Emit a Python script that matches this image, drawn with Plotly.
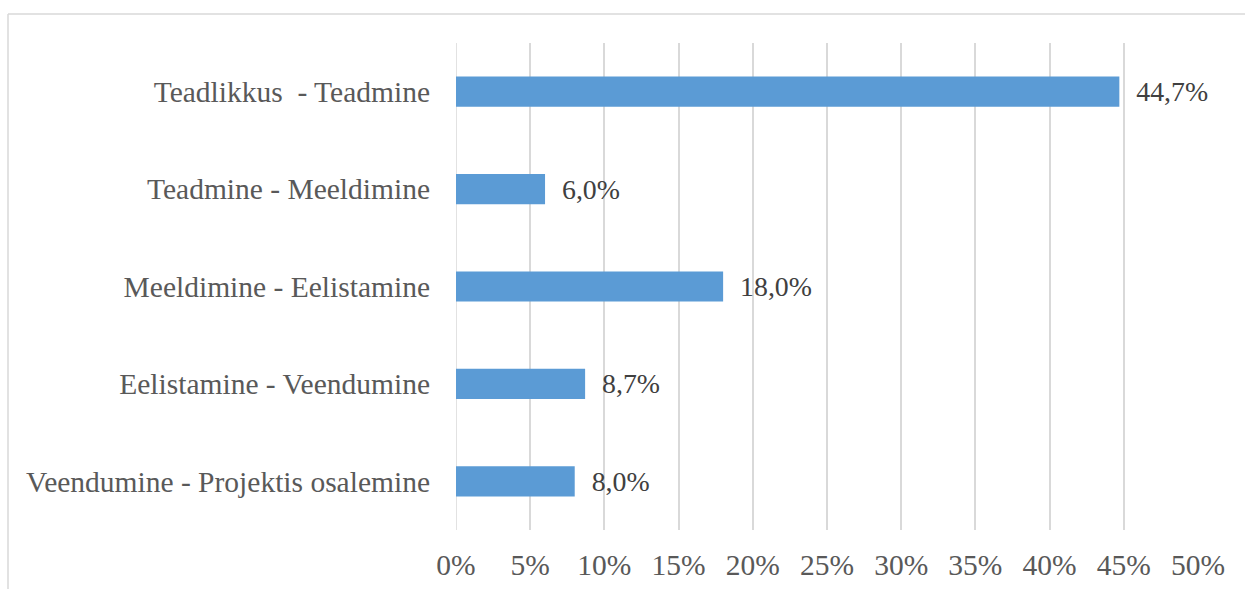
import plotly.graph_objects as go

# Transition stages (top to bottom) and their shares in percent
categories = [
    "Teadlikkus \u00a0- Teadmine",
    "Teadmine - Meeldimine",
    "Meeldimine - Eelistamine",
    "Eelistamine - Veendumine",
    "Veendumine - Projektis osalemine",
]
values = [44.7, 6.0, 18.0, 8.7, 8.0]
tick_vals = [0, 5, 10, 15, 20, 25, 30, 35, 40, 45, 50]
tick_text = [f"{v}%" for v in tick_vals]

W, H = 1245, 589
L, R, T, B = 456, 47, 43, 59

font_family = "Liberation Serif, Times New Roman, serif"
font_size = 29.5
grid_col = "#d9d9d9"

fig = go.Figure(
    go.Bar(
        x=values,
        y=categories,
        orientation="h",
        width=0.31,
        marker=dict(color="#5b9bd5", line=dict(width=0)),
        texttemplate="\u00a0\u00a0%{x:.1f}%",
        textposition="outside",
        textfont=dict(family=font_family, size=font_size, color="#404040"),
        cliponaxis=False,
    )
)

# Chart-area frame: top and left edges visible inside the page
px_to_x = lambda p: (p - L) / (W - L - R)
px_to_y = lambda p: (H - B - p) / (H - T - B)
frame = dict(type="line", xref="paper", yref="paper", line=dict(color=grid_col, width=1.5), layer="below")
fig.add_shape(**frame, x0=px_to_x(8), x1=px_to_x(W + 5), y0=px_to_y(14), y1=px_to_y(14))
fig.add_shape(**frame, x0=px_to_x(8), x1=px_to_x(8), y0=px_to_y(14), y1=px_to_y(H + 5))

fig.update_layout(
    width=W,
    height=H,
    margin=dict(l=L, r=R, t=T, b=B, autoexpand=False),
    paper_bgcolor="white",
    plot_bgcolor="white",
    separators=",.",
    showlegend=False,
    uniformtext=dict(mode=False),
)
fig.update_xaxes(
    range=[0, 50],
    tickmode="array",
    tickvals=tick_vals,
    ticktext=tick_text,
    showgrid=True,
    gridcolor=grid_col,
    gridwidth=1.5,
    zeroline=False,
    showline=False,
    ticks="",
    automargin=False,
    ticklabelstandoff=14,
    tickfont=dict(family=font_family, size=font_size, color="#595959"),
)
fig.update_yaxes(
    categoryorder="array",
    categoryarray=categories[::-1],
    showgrid=False,
    zeroline=False,
    showline=False,
    ticks="",
    automargin=False,
    ticklabelstandoff=25,
    tickfont=dict(family=font_family, size=font_size, color="#595959"),
)
# Vertical line at 0% drawn like the other gridlines
fig.add_shape(type="line", xref="x", yref="paper", x0=0, x1=0, y0=0, y1=1,
              line=dict(color=grid_col, width=1.5), layer="below")

fig.write_html("out.html")
